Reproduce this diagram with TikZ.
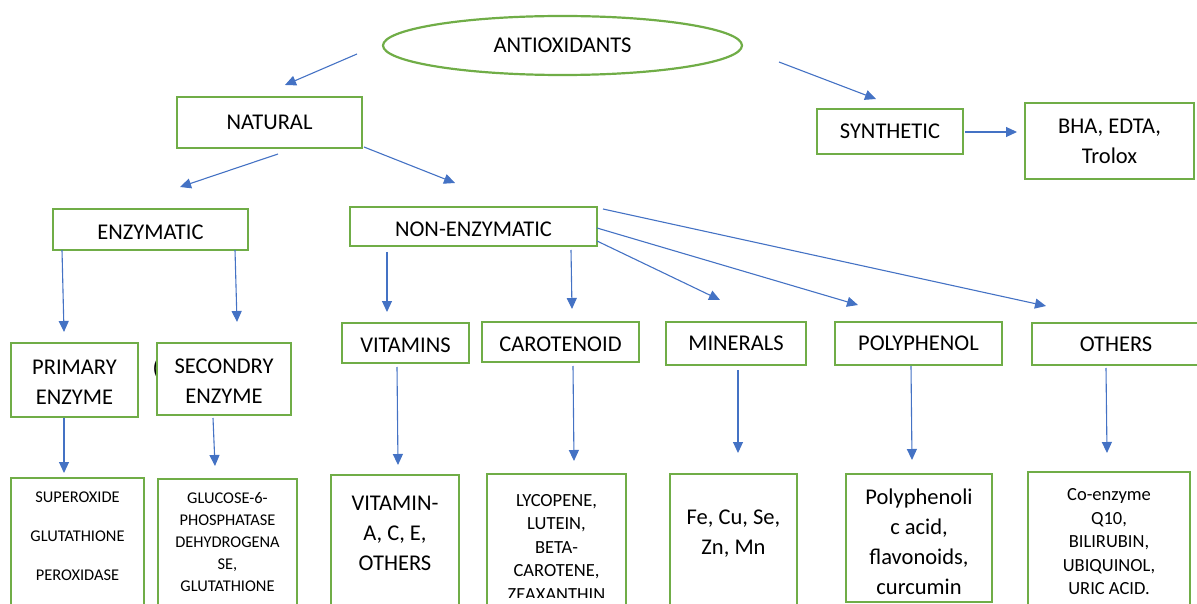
\documentclass[tikz,border=0pt]{standalone}
\usepackage{fontspec}
\setmainfont{Carlito}
\usetikzlibrary{arrows.meta,shapes.geometric}
\definecolor{boxgreen}{HTML}{70AD47}
\definecolor{arrblue}{HTML}{4472C4}
\begin{document}
\begin{tikzpicture}[x=1pt,y=-1pt,
  box/.style={draw=boxgreen, line width=2.2pt, fill=white, rectangle, inner sep=0pt, align=center, font=\fontsize{22.5}{30}\selectfont},
  ell/.style={draw=boxgreen, line width=2.2pt, ellipse, inner sep=0pt, font=\fontsize{22.5}{30}\selectfont},
  low/.style={text height=18.5pt},
  lower/.style={text height=19.5pt},
  lowtwo/.style={text height=48.5pt},
  txt/.style={inner sep=0pt, align=center},
  big/.style={font=\fontsize{22.5}{30}\selectfont},
  mid/.style={font=\fontsize{18.5}{23.5}\selectfont},
  arr/.style={draw=arrblue, line width=1.1pt, -{Triangle[length=11pt,width=10pt]}}]
\useasboundingbox (0,0) rectangle (1197,604);

% stray glyph partly hidden
\node[txt, big] (stray) at (156,369) {(};

% top
\node[ell, minimum width=359pt, minimum height=59pt] (antiox) at (562.5,45.5) {ANTIOXIDANTS};
\node[box, minimum width=185pt, minimum height=51pt] (natural) at (269.5,122.5) {NATURAL};
\node[box, minimum width=146pt, minimum height=45pt] (synth) at (890,131.5) {SYNTHETIC};
\node[box, minimum width=169pt, minimum height=76pt] (bha) at (1109.5,141) {BHA, EDTA,\\Trolox};
\node[box, lower, minimum width=195pt, minimum height=41pt] (enz) at (150.5,229.5) {ENZYMATIC};
\node[box, lower, minimum width=247pt, minimum height=39pt] (nonenz) at (473.5,226.5) {NON-ENZYMATIC};

% second row
\node[box, lowtwo, minimum width=127pt, minimum height=74pt] (prim) at (74.5,380) {PRIMARY\\ENZYME};
\node[box, lowtwo, minimum width=134pt, minimum height=72pt] (sec) at (224,379) {SECONDRY\\ENZYME};
\node[box, low, minimum width=127pt, minimum height=40pt] (vitamins) at (405.5,343) {VITAMINS};
\node[box, low, minimum width=157pt, minimum height=40pt] (carot) at (560.5,342) {CAROTENOID};
\node[box, minimum width=140pt, minimum height=43pt] (minerals) at (736,343.5) {MINERALS};
\node[box, minimum width=167pt, minimum height=43pt] (polyph) at (918.5,343.5) {POLYPHENOL};
\node[box, minimum width=168pt, minimum height=42pt] (others) at (1116,344) {OTHERS};

% bottom row boxes
\node[box, minimum width=133pt, minimum height=142pt] (supbox) at (77.5,549) {};
\node[box, minimum width=139pt, minimum height=141pt] (glubox) at (227.5,549.5) {};
\node[box, minimum width=128pt, minimum height=145pt] (vitbox) at (395,547.5) {};
\node[box, minimum width=139pt, minimum height=146pt] (lycbox) at (556.5,547) {};
\node[box, minimum width=127pt, minimum height=146pt] (febox) at (733.5,547) {};
\node[box, minimum width=146pt, minimum height=128pt] (polybox) at (919,538) {};
\node[box, minimum width=162pt, minimum height=148pt] (cobox) at (1109,546) {};

% bottom row texts
\node[txt, font=\fontsize{16.4}{39}\selectfont] (suptxt) at (77.5,536) {SUPEROXIDE\\GLUTATHIONE\\PEROXIDASE};
\node[txt, font=\fontsize{16.4}{22}\selectfont] (glutxt) at (227.5,542) {GLUCOSE-6-\\PHOSPHATASE\\DEHYDROGENA\\SE,\\GLUTATHIONE};
\node[txt, big] (vittxt) at (395,533) {VITAMIN-\\A, C, E,\\OTHERS};
\begin{scope}
  \clip (488,476) rectangle (625,597);
  \node[txt, mid] (lyctxt) at (556.5,547) {LYCOPENE,\\LUTEIN,\\BETA-\\CAROTENE,\\ZEAXANTHIN};
\end{scope}
\node[txt, big] (fetxt) at (733.5,534) {Fe, Cu, Se,\\Zn, Mn};
\node[txt, big] (polytxt) at (919,542) {Polyphenoli\\c acid,\\flavonoids,\\curcumin};
\node[txt, mid] (cotxt) at (1109,542) {Co-enzyme\\Q10,\\BILIRUBIN,\\UBIQUINOL,\\URIC ACID.};

% arrow end points
\coordinate (a1s) at (357,54);   \coordinate (a1e) at (285,85);
\coordinate (a2s) at (779,62);   \coordinate (a2e) at (876,99);
\coordinate (a3s) at (965,132);  \coordinate (a3e) at (1017,132);
\coordinate (a4s) at (278,154);  \coordinate (a4e) at (180,187);
\coordinate (a5s) at (364,147);  \coordinate (a5e) at (455,183);
\coordinate (a6s) at (62,250);   \coordinate (a6e) at (64,332);
\coordinate (a7s) at (235,250);  \coordinate (a7e) at (237,322);
\coordinate (a8s) at (387,252);  \coordinate (a8e) at (387,312);
\coordinate (a9s) at (571,250);  \coordinate (a9e) at (572,309);
\coordinate (a10s) at (597,241); \coordinate (a10e) at (720,300);
\coordinate (a11s) at (597,228); \coordinate (a11e) at (858,305);
\coordinate (a12s) at (603,209); \coordinate (a12e) at (1046,306);
\coordinate (a13s) at (64,418);  \coordinate (a13e) at (64,473);
\coordinate (a14s) at (213,418); \coordinate (a14e) at (215,466);
\coordinate (a15s) at (397,367); \coordinate (a15e) at (398,465);
\coordinate (a16s) at (573,366); \coordinate (a16e) at (574,461);
\coordinate (a17s) at (738,370); \coordinate (a17e) at (738,453);
\coordinate (a18s) at (911,366); \coordinate (a18e) at (912,460);
\coordinate (a19s) at (1106,368);\coordinate (a19e) at (1107,453);

\foreach \i in {1,...,19} {\draw[arr] (a\i s) -- (a\i e);}
\end{tikzpicture}
\end{document}
